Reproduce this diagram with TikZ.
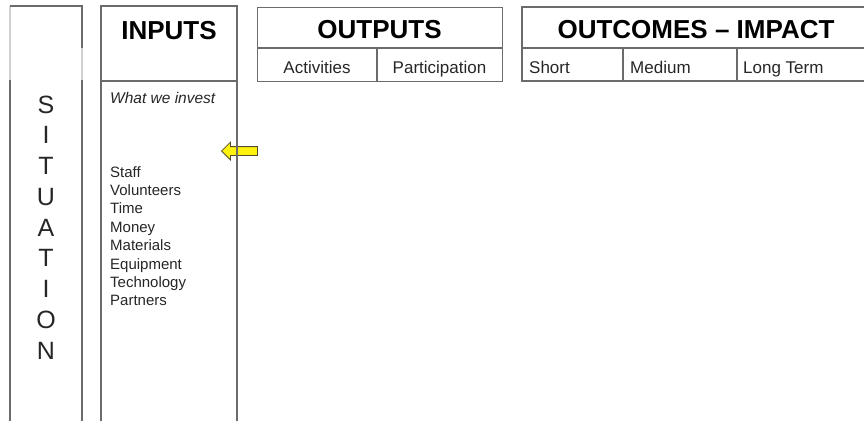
\documentclass[tikz,border=0pt]{standalone}
\usepackage{fontspec}
\setmainfont{Liberation Sans}
\usetikzlibrary{shapes.arrows}
\begin{document}
\begin{tikzpicture}[x=1pt,y=-1pt,
  frame/.style={draw=black!58, line width=1.4pt},
  faint/.style={draw=black!18, line width=1.2pt},
  head/.style={font=\fontsize{26}{30}\selectfont\bfseries, inner sep=0pt, anchor=base},
  sub/.style={font=\fontsize{17}{20}\selectfont, inner sep=0pt, text=black!85},
  letter/.style={font=\fontsize{25}{28}\selectfont, inner sep=0pt, anchor=base, text=black!85},
  item/.style={font=\fontsize{15}{18}\selectfont, inner sep=0pt, anchor=base west, text=black!85}]
\useasboundingbox (0,0) rectangle (864,421);
% yellow arrow (drawn first so the column line passes over it)
\node[single arrow, shape border rotate=180, fill=yellow!95!white, draw=black!55!olive, line width=0.8pt,
      minimum height=36pt, minimum width=17pt, single arrow head extend=4.5pt,
      inner xsep=0pt, inner ysep=4pt, anchor=tip] (arrow) at (221,151) {};
% situation column
\coordinate (s1) at (10,421);
\coordinate (s2) at (10,80);
\coordinate (s3) at (10,6);
\coordinate (s4) at (82,6);
\coordinate (s5) at (82,48);
\coordinate (s6) at (82,80);
\coordinate (s7) at (82,421);
\draw[frame] (s1) -- (s2);
\draw[faint] (s2) -- (s3);
\draw[frame] (s3) -- (s4) -- (s5);
\draw[faint] (s5) -- (s6);
\draw[frame] (s6) -- (s7);
\foreach \l [count=\i from 0] in {S,I,T,U,A,T,I,O,N}
  \node[letter] (sit\i) at (46,113+30.75*\i) {\l};
% inputs column
\coordinate (i1) at (101,421);
\coordinate (i2) at (101,6);
\coordinate (i3) at (237,6);
\coordinate (i4) at (237,421);
\coordinate (i5) at (101,81);
\coordinate (i6) at (237,81);
\draw[frame] (i1) -- (i2) -- (i3) -- (i4);
\draw[frame] (i5) -- (i6);
\node[head] (inputs) at (169,39) {INPUTS};
\node[font=\fontsize{15.5}{18}\selectfont\itshape, inner sep=0pt, anchor=base west, text=black!85] (invest) at (110,103) {What we invest};
\foreach \t [count=\i from 0] in {Staff,Volunteers,Time,Money,Materials,Equipment,Technology,Partners}
  \node[item] (it\i) at (110,177+18.4*\i) {\t};
% outputs box
\node[frame, minimum width=245pt, minimum height=74pt, inner sep=0pt, anchor=north west] (outbox) at (257,7) {};
\draw[frame] (257,48) -- (502,48);
\draw[frame] (377,48) -- (377,81);
\node[head] (outputs) at (379.5,38) {OUTPUTS};
\node[sub, anchor=base] (act) at (317,73) {Activities};
\node[sub, anchor=base] (part) at (439.5,73) {Participation};
% outcomes box (continues past right edge)
\coordinate (o1) at (866,7);
\coordinate (o2) at (522,7);
\coordinate (o3) at (522,81);
\coordinate (o4) at (866,81);
\draw[frame] (o1) -- (o2) -- (o3) -- (o4);
\draw[frame] (522,48) -- (866,48);
\draw[frame] (623,48) -- (623,81);
\draw[frame] (737,48) -- (737,81);
\node[head] (outcomes) at (696,38) {OUTCOMES -- IMPACT};
\node[sub, anchor=base west] (short) at (529,73) {Short};
\node[sub, anchor=base west] (medium) at (630,73) {Medium};
\node[sub, anchor=base west] (long) at (743,73) {Long Term};
\end{tikzpicture}
\end{document}
